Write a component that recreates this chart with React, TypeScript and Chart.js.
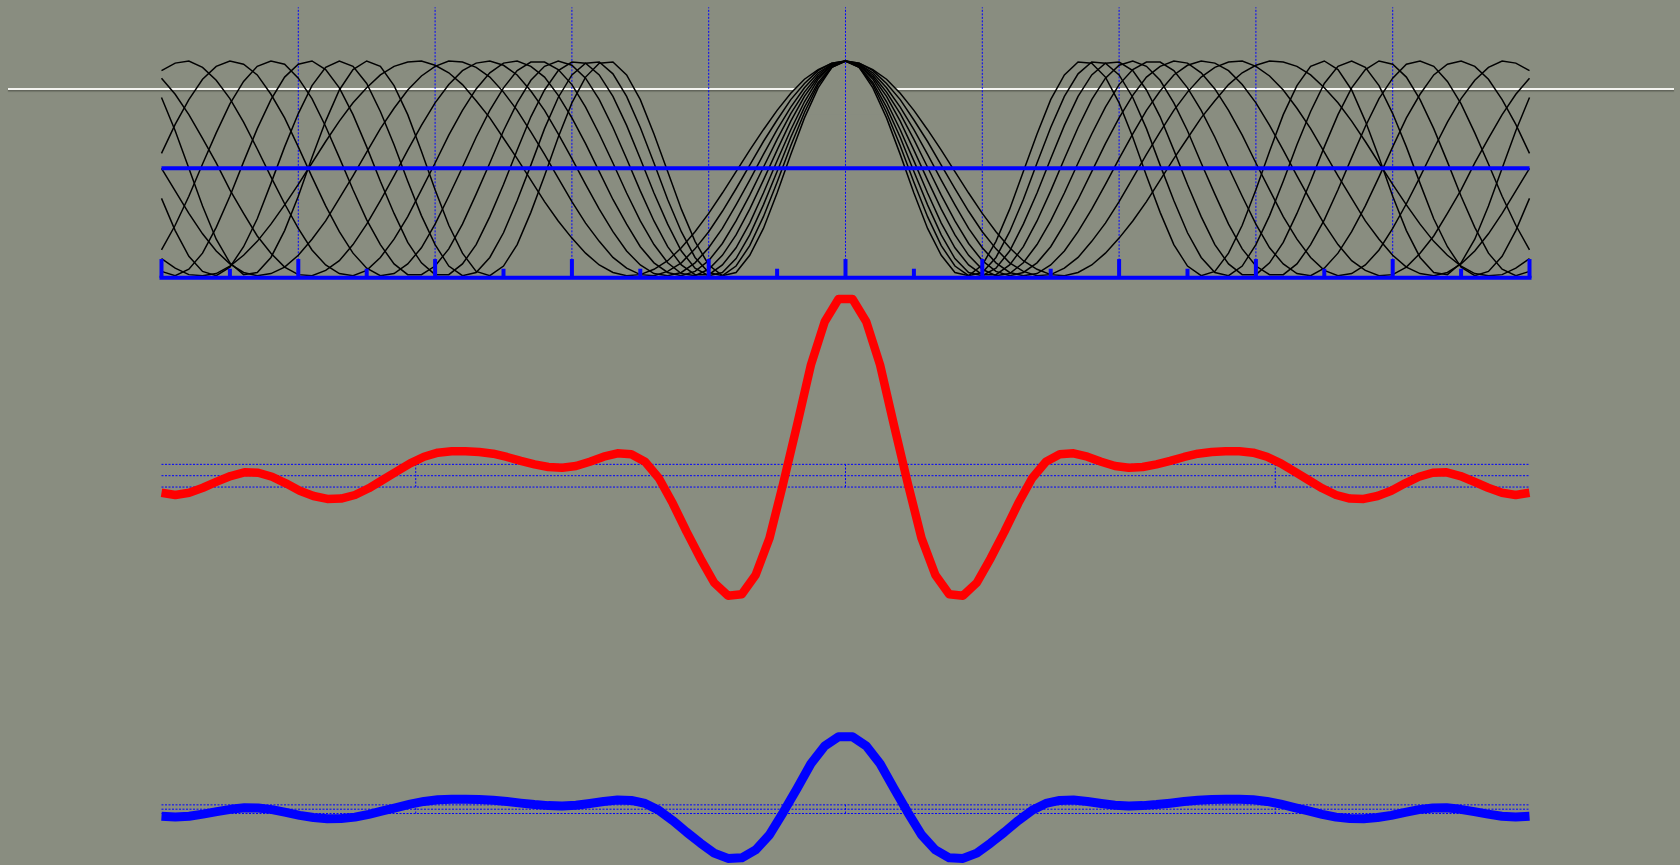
import React, { useEffect, useRef } from "react";
import { Chart, registerables } from "chart.js";

Chart.register(...registerables);

// ---------- data ----------
// sample positions of the component waves (x from -5 to 5)
const WAVE_X = [
  -5, -4.9, -4.8, -4.7, -4.6, -4.5, -4.4, -4.3, -4.2, -4.1, -4, -3.9, -3.8, -3.7, -3.6, -3.5, -3.4, -3.3, -3.2, -3.1,
  -3, -2.9, -2.8, -2.7, -2.6, -2.5, -2.4, -2.3, -2.2, -2.1, -2, -1.9, -1.8, -1.7, -1.6, -1.5, -1.4, -1.3, -1.2, -1.1,
  -1, -0.9, -0.8, -0.7, -0.6, -0.5, -0.4, -0.3, -0.2, -0.1, 0, 0.1, 0.2, 0.3, 0.4, 0.5, 0.6, 0.7, 0.8, 0.9,
  1, 1.1, 1.2, 1.3, 1.4, 1.5, 1.6, 1.7, 1.8, 1.9, 2, 2.1, 2.2, 2.3, 2.4, 2.5, 2.6, 2.7, 2.8, 2.9,
  3, 3.1, 3.2, 3.3, 3.4, 3.5, 3.6, 3.7, 3.8, 3.9, 4, 4.1, 4.2, 4.3, 4.4, 4.5, 4.6, 4.7, 4.8, 4.9, 5,
];

const WAVE_NAMES = ["k=2.0", "k=2.2", "k=2.4", "k=2.6", "k=2.8", "k=3.0", "k=3.2", "k=3.4", "k=3.6"];

const WAVE_20 = [
  -0.84, -0.93, -0.99, -1.0, -0.98, -0.91, -0.81, -0.68, -0.52, -0.34, -0.15, 0.05, 0.25, 0.44, 0.61, 0.75, 0.87, 0.95, 0.99, 1.0,
  0.96, 0.89, 0.78, 0.63, 0.47, 0.28, 0.09, -0.11, -0.31, -0.49, -0.65, -0.79, -0.9, -0.97, -1.0, -0.99, -0.94, -0.86, -0.74, -0.59,
  -0.42, -0.23, -0.03, 0.17, 0.36, 0.54, 0.7, 0.83, 0.92, 0.98,
  1.0,
  0.98, 0.92, 0.83, 0.7, 0.54, 0.36, 0.17, -0.03, -0.23, -0.42, -0.59, -0.74, -0.86, -0.94, -0.99, -1.0, -0.97, -0.9, -0.79, -0.65,
  -0.49, -0.31, -0.11, 0.09, 0.28, 0.47, 0.63, 0.78, 0.89, 0.96, 1.0, 0.99, 0.95, 0.87, 0.75, 0.61, 0.44, 0.25, 0.05, -0.15,
  -0.34, -0.52, -0.68, -0.81, -0.91, -0.98, -1.0, -0.99, -0.93, -0.84,
];
const WAVE_22 = [
  0.0, -0.21, -0.42, -0.61, -0.77, -0.89, -0.97, -1.0, -0.98, -0.92, -0.81, -0.66, -0.49, -0.28, -0.07, 0.15, 0.37, 0.56, 0.73, 0.86,
  0.95, 1.0, 0.99, 0.94, 0.85, 0.71, 0.54, 0.34, 0.13, -0.09, -0.31, -0.51, -0.68, -0.83, -0.93, -0.99, -1.0, -0.96, -0.88, -0.75,
  -0.59, -0.4, -0.19, 0.03, 0.25, 0.45, 0.64, 0.79, 0.91, 0.98,
  1.0,
  0.98, 0.91, 0.79, 0.64, 0.45, 0.25, 0.03, -0.19, -0.4, -0.59, -0.75, -0.88, -0.96, -1.0, -0.99, -0.93, -0.83, -0.68, -0.51, -0.31,
  -0.09, 0.13, 0.34, 0.54, 0.71, 0.85, 0.94, 0.99, 1.0, 0.95, 0.86, 0.73, 0.56, 0.37, 0.15, -0.07, -0.28, -0.49, -0.66, -0.81,
  -0.92, -0.98, -1.0, -0.97, -0.89, -0.77, -0.61, -0.42, -0.21, 0.0,
];
const WAVE_24 = [
  0.84, 0.69, 0.5, 0.28, 0.05, -0.2, -0.42, -0.63, -0.79, -0.92, -0.99, -1.0, -0.95, -0.86, -0.71, -0.52, -0.3, -0.07, 0.17, 0.4,
  0.61, 0.78, 0.91, 0.98, 1.0, 0.96, 0.87, 0.72, 0.54, 0.32, 0.09, -0.15, -0.38, -0.59, -0.77, -0.9, -0.98, -1.0, -0.97, -0.88,
  -0.74, -0.56, -0.34, -0.11, 0.13, 0.36, 0.57, 0.75, 0.89, 0.97,
  1.0,
  0.97, 0.89, 0.75, 0.57, 0.36, 0.13, -0.11, -0.34, -0.56, -0.74, -0.88, -0.97, -1.0, -0.98, -0.9, -0.77, -0.59, -0.38, -0.15, 0.09,
  0.32, 0.54, 0.72, 0.87, 0.96, 1.0, 0.98, 0.91, 0.78, 0.61, 0.4, 0.17, -0.07, -0.3, -0.52, -0.71, -0.86, -0.95, -1.0, -0.99,
  -0.92, -0.79, -0.63, -0.42, -0.2, 0.05, 0.28, 0.5, 0.69, 0.84,
];
const WAVE_26 = [
  0.91, 0.98, 1.0, 0.94, 0.82, 0.65, 0.43, 0.18, -0.08, -0.33, -0.56, -0.76, -0.9, -0.98, -1.0, -0.95, -0.83, -0.66, -0.45, -0.2,
  0.05, 0.31, 0.54, 0.74, 0.89, 0.98, 1.0, 0.95, 0.85, 0.68, 0.47, 0.23, -0.03, -0.29, -0.52, -0.73, -0.88, -0.97, -1.0, -0.96,
  -0.86, -0.7, -0.49, -0.25, 0.01, 0.27, 0.51, 0.71, 0.87, 0.97,
  1.0,
  0.97, 0.87, 0.71, 0.51, 0.27, 0.01, -0.25, -0.49, -0.7, -0.86, -0.96, -1.0, -0.97, -0.88, -0.73, -0.52, -0.29, -0.03, 0.23, 0.47,
  0.68, 0.85, 0.95, 1.0, 0.98, 0.89, 0.74, 0.54, 0.31, 0.05, -0.2, -0.45, -0.66, -0.83, -0.95, -1.0, -0.98, -0.9, -0.76, -0.56,
  -0.33, -0.08, 0.18, 0.43, 0.65, 0.82, 0.94, 1.0, 0.98, 0.91,
];
const WAVE_28 = [
  0.14, 0.41, 0.64, 0.83, 0.95, 1.0, 0.97, 0.87, 0.69, 0.47, 0.2, -0.08, -0.35, -0.59, -0.79, -0.93, -1.0, -0.98, -0.89, -0.74,
  -0.52, -0.26, 0.01, 0.29, 0.54, 0.75, 0.91, 0.99, 0.99, 0.92, 0.78, 0.57, 0.32, 0.05, -0.23, -0.49, -0.71, -0.88, -0.98, -1.0,
  -0.94, -0.81, -0.62, -0.38, -0.11, 0.17, 0.44, 0.67, 0.85, 0.96,
  1.0,
  0.96, 0.85, 0.67, 0.44, 0.17, -0.11, -0.38, -0.62, -0.81, -0.94, -1.0, -0.98, -0.88, -0.71, -0.49, -0.23, 0.05, 0.32, 0.57, 0.78,
  0.92, 0.99, 0.99, 0.91, 0.75, 0.54, 0.29, 0.01, -0.26, -0.52, -0.74, -0.89, -0.98, -1.0, -0.93, -0.79, -0.59, -0.35, -0.08, 0.2,
  0.47, 0.69, 0.87, 0.97, 1.0, 0.95, 0.83, 0.64, 0.41, 0.14,
];
const WAVE_30 = [
  -0.76, -0.53, -0.26, 0.04, 0.33, 0.6, 0.81, 0.95, 1.0, 0.97, 0.84, 0.65, 0.39, 0.1, -0.2, -0.48, -0.71, -0.89, -0.99, -0.99,
  -0.91, -0.75, -0.52, -0.24, 0.05, 0.35, 0.61, 0.82, 0.95, 1.0, 0.96, 0.84, 0.64, 0.38, 0.09, -0.21, -0.49, -0.73, -0.9, -0.99,
  -0.99, -0.9, -0.74, -0.51, -0.23, 0.07, 0.36, 0.62, 0.83, 0.96,
  1.0,
  0.96, 0.83, 0.62, 0.36, 0.07, -0.23, -0.51, -0.74, -0.9, -0.99, -0.99, -0.9, -0.73, -0.49, -0.21, 0.09, 0.38, 0.64, 0.84, 0.96,
  1.0, 0.95, 0.82, 0.61, 0.35, 0.05, -0.24, -0.52, -0.75, -0.91, -0.99, -0.99, -0.89, -0.71, -0.48, -0.2, 0.1, 0.39, 0.65, 0.84,
  0.97, 1.0, 0.95, 0.81, 0.6, 0.33, 0.04, -0.26, -0.53, -0.76,
];
const WAVE_32 = [
  -0.96, -1.0, -0.94, -0.79, -0.55, -0.26, 0.06, 0.37, 0.64, 0.85, 0.97, 1.0, 0.92, 0.75, 0.5, 0.2, -0.12, -0.42, -0.69, -0.88,
  -0.99, -0.99, -0.89, -0.71, -0.45, -0.15, 0.17, 0.48, 0.73, 0.91, 0.99, 0.98, 0.87, 0.67, 0.4, 0.09, -0.23, -0.52, -0.77, -0.93,
  -1.0, -0.97, -0.84, -0.62, -0.34, -0.03, 0.29, 0.57, 0.8, 0.95,
  1.0,
  0.95, 0.8, 0.57, 0.29, -0.03, -0.34, -0.62, -0.84, -0.97, -1.0, -0.93, -0.77, -0.52, -0.23, 0.09, 0.4, 0.67, 0.87, 0.98, 0.99,
  0.91, 0.73, 0.48, 0.17, -0.15, -0.45, -0.71, -0.89, -0.99, -0.99, -0.88, -0.69, -0.42, -0.12, 0.2, 0.5, 0.75, 0.92, 1.0, 0.97,
  0.85, 0.64, 0.37, 0.06, -0.26, -0.55, -0.79, -0.94, -1.0, -0.96,
];
const WAVE_34 = [
  -0.28, -0.58, -0.82, -0.96, -1.0, -0.92, -0.73, -0.47, -0.14, 0.2, 0.51, 0.77, 0.94, 1.0, 0.95, 0.79, 0.53, 0.22, -0.12, -0.44,
  -0.71, -0.91, -1.0, -0.97, -0.83, -0.6, -0.3, 0.03, 0.37, 0.66, 0.87, 0.98, 0.99, 0.88, 0.67, 0.38, 0.05, -0.29, -0.59, -0.83,
  -0.97, -1.0, -0.91, -0.72, -0.45, -0.13, 0.21, 0.52, 0.78, 0.94,
  1.0,
  0.94, 0.78, 0.52, 0.21, -0.13, -0.45, -0.72, -0.91, -1.0, -0.97, -0.83, -0.59, -0.29, 0.05, 0.38, 0.67, 0.88, 0.99, 0.98, 0.87,
  0.66, 0.37, 0.03, -0.3, -0.6, -0.83, -0.97, -1.0, -0.91, -0.71, -0.44, -0.12, 0.22, 0.53, 0.79, 0.95, 1.0, 0.94, 0.77, 0.51,
  0.2, -0.14, -0.47, -0.73, -0.92, -1.0, -0.96, -0.82, -0.58, -0.28,
];
const WAVE_36 = [
  0.66, 0.35, 0.0, -0.35, -0.66, -0.88, -0.99, -0.97, -0.83, -0.58, -0.26, 0.1, 0.44, 0.73, 0.92, 1.0, 0.95, 0.77, 0.5, 0.16,
  -0.2, -0.53, -0.79, -0.96, -1.0, -0.91, -0.71, -0.41, -0.07, 0.29, 0.61, 0.85, 0.98, 0.99, 0.87, 0.64, 0.32, -0.03, -0.38, -0.68,
  -0.9, -1.0, -0.97, -0.81, -0.56, -0.23, 0.13, 0.47, 0.75, 0.94,
  1.0,
  0.94, 0.75, 0.47, 0.13, -0.23, -0.56, -0.81, -0.97, -1.0, -0.9, -0.68, -0.38, -0.03, 0.32, 0.64, 0.87, 0.99, 0.98, 0.85, 0.61,
  0.29, -0.07, -0.41, -0.71, -0.91, -1.0, -0.96, -0.79, -0.53, -0.2, 0.16, 0.5, 0.77, 0.95, 1.0, 0.92, 0.73, 0.44, 0.1, -0.26,
  -0.58, -0.83, -0.97, -0.99, -0.88, -0.66, -0.35, 0.0, 0.35, 0.66,
];

const WAVES = [WAVE_20, WAVE_22, WAVE_24, WAVE_26, WAVE_28, WAVE_30, WAVE_32, WAVE_34, WAVE_36];

// sample positions of the wave packet (100 samples from -5 to 5)
const PACKET_X = [
  -5, -4.899, -4.798, -4.697, -4.596, -4.495, -4.394, -4.293, -4.192, -4.091, -3.99, -3.889, -3.788, -3.687, -3.586,
  -3.485, -3.384, -3.283, -3.182, -3.081, -2.98, -2.879, -2.778, -2.677, -2.576, -2.475, -2.374, -2.273, -2.172, -2.071,
  -1.97, -1.869, -1.768, -1.667, -1.566, -1.465, -1.364, -1.263, -1.162, -1.061, -0.96, -0.859, -0.758, -0.657, -0.556,
  -0.455, -0.354, -0.253, -0.152, -0.051, 0.051, 0.152, 0.253, 0.354, 0.455, 0.556, 0.657, 0.758, 0.859, 0.96,
  1.061, 1.162, 1.263, 1.364, 1.465, 1.566, 1.667, 1.768, 1.869, 1.97, 2.071, 2.172, 2.273, 2.374, 2.475,
  2.576, 2.677, 2.778, 2.879, 2.98, 3.081, 3.182, 3.283, 3.384, 3.485, 3.586, 3.687, 3.788, 3.889, 3.99,
  4.091, 4.192, 4.293, 4.394, 4.495, 4.596, 4.697, 4.798, 4.899, 5,
];

const PACKET = [
  -1.5, -1.7, -1.5, -1.06, -0.53, -0.03, 0.3, 0.26, -0.09, -0.67, -1.32, -1.79, -2.05, -2.01, -1.7, -1.11, -0.38, 0.35,
  1.09, 1.67, 2.03, 2.15, 2.15, 2.09, 1.94, 1.65, 1.3, 1.0, 0.77, 0.7, 0.85, 1.23, 1.67, 1.97, 1.89, 1.23, -0.23, -2.43,
  -4.93, -7.28, -9.43, -10.57, -10.45, -8.75, -5.52, -0.67, 4.47, 9.75, 13.57, 15.57,
  15.57, 13.57, 9.75, 4.47, -0.67, -5.52, -8.75, -10.45, -10.57, -9.43, -7.28, -4.93, -2.43, -0.23, 1.23, 1.89, 1.97,
  1.67, 1.23, 0.85, 0.7, 0.77, 1.0, 1.3, 1.65, 1.94, 2.09, 2.15, 2.15, 2.03, 1.67, 1.09, 0.35, -0.38, -1.11, -1.7,
  -2.01, -2.05, -1.79, -1.32, -0.67, -0.09, 0.26, 0.3, -0.03, -0.53, -1.06, -1.5, -1.7, -1.5,
];

// axis ticks / grid
const MAJOR_TICKS = [-5, -4, -3, -2, -1, 0, 1, 2, 3, 4, 5];
const MINOR_TICKS = [-4.5, -3.5, -2.5, -1.5, -0.5, 0.5, 1.5, 2.5, 3.5, 4.5];
const DOTTED_X = [-4, -3, -2, -1, 0, 1, 2, 3, 4];
const PANEL_GRID_X = [-3.1416, 0, 3.1416];
const RED_LEVELS = [-1, 0, 1];
const BLUE_LEVELS = [-0.93, 0, 0.93];

// ---------- styling / layout ----------
const BG = "#898d80";
const BLUE = "#0000ff";
const RED = "#ff0000";
const PAGE_W = 1680;
const PAGE_H = 865;
const PAD_LEFT = 161.5;
const PAD_RIGHT = PAGE_W - 1529.5;
const X_MIN = -5;
const X_MAX = 5;

const TOP_PANEL = { top: 0, height: 300, yMin: -1.02, yMax: 1.5, areaTop: 7.3, areaBottom: 277.85 };
const AXIS_Y = -1.02;
const MAJOR_LEN = 0.175;
const MINOR_LEN = 0.085;
const MASK_LEVEL = 0.5;
const DASH = [2, 1.5];

const RED_PANEL = { top: 285, height: 330, zeroY: 475.7, pxPerUnit: 11.35 };
const BLUE_PANEL = { top: 715, height: 150, zeroY: 809.2, pxPerUnit: 4.655 };

const pts = (xs: number[], ys: number[]) => xs.map((x, i) => ({ x, y: ys[i] }));

const line = (data: any[], color: string, width: number, order: number, extra: any = {}) => ({
  data,
  borderColor: color,
  borderWidth: width,
  pointRadius: 0,
  pointHoverRadius: 0,
  tension: 0,
  fill: false,
  clip: false,
  order,
  ...extra,
});

const baseOptions = (padTop: number, padBottom: number, yMin: number, yMax: number) => ({
  animation: false,
  responsive: false,
  events: [],
  layout: { padding: { left: PAD_LEFT, right: PAD_RIGHT, top: padTop, bottom: padBottom } },
  plugins: { legend: { display: false }, tooltip: { enabled: false }, title: { display: false } },
  scales: {
    x: { type: "linear", min: X_MIN, max: X_MAX, display: false },
    y: { type: "linear", min: yMin, max: yMax, display: false },
  },
});

function topConfig() {
  const maskPts = pts(WAVE_X, WAVE_20).filter((p) => Math.abs(p.x) <= 0.5);
  const datasets: any[] = [];
  datasets.push(
    line(maskPts, "rgba(0,0,0,0)", 0, 20, {
      fill: { value: MASK_LEVEL },
      backgroundColor: BG,
      label: "mask",
    })
  );
  DOTTED_X.forEach((x) =>
    datasets.push(line([{ x, y: AXIS_Y }, { x, y: TOP_PANEL.yMax }], BLUE, 1, 15, { borderDash: DASH }))
  );
  WAVES.forEach((w, i) => datasets.push(line(pts(WAVE_X, w), "#000000", 1.5, 10, { label: WAVE_NAMES[i] })));
  datasets.push(line([{ x: X_MIN, y: 0 }, { x: X_MAX, y: 0 }], BLUE, 4, 3));
  datasets.push(
    line([{ x: X_MIN, y: AXIS_Y }, { x: X_MAX, y: AXIS_Y }], BLUE, 4, 2, { borderCapStyle: "square" })
  );
  MAJOR_TICKS.forEach((x) =>
    datasets.push(line([{ x, y: AXIS_Y }, { x, y: AXIS_Y + MAJOR_LEN }], BLUE, 4, 1))
  );
  MINOR_TICKS.forEach((x) =>
    datasets.push(line([{ x, y: AXIS_Y }, { x, y: AXIS_Y + MINOR_LEN }], BLUE, 4, 1))
  );
  const padTop = TOP_PANEL.areaTop - TOP_PANEL.top;
  const padBottom = TOP_PANEL.top + TOP_PANEL.height - TOP_PANEL.areaBottom;
  return {
    type: "line",
    data: { datasets },
    options: baseOptions(padTop, padBottom, TOP_PANEL.yMin, TOP_PANEL.yMax),
  };
}

function packetConfig(panel: any, levels: number[], color: string, width: number) {
  const yMax = (panel.zeroY - panel.top) / panel.pxPerUnit;
  const yMin = (panel.zeroY - (panel.top + panel.height)) / panel.pxPerUnit;
  const lo = Math.min(...levels);
  const hi = Math.max(...levels);
  const datasets: any[] = [];
  levels.forEach((v) =>
    datasets.push(line([{ x: X_MIN, y: v }, { x: X_MAX, y: v }], BLUE, 1, 10, { borderDash: DASH }))
  );
  PANEL_GRID_X.forEach((x) =>
    datasets.push(line([{ x, y: lo }, { x, y: hi }], BLUE, 1, 10, { borderDash: DASH }))
  );
  datasets.push(line(pts(PACKET_X, PACKET), color, width, 1, { borderJoinStyle: "round", label: "packet" }));
  return {
    type: "line",
    data: { datasets },
    options: baseOptions(0, 0, yMin, yMax),
  };
}

function ChartCanvas({ top, height, config }: { top: number; height: number; config: () => any }) {
  const ref = useRef<HTMLCanvasElement | null>(null);
  useEffect(() => {
    if (!ref.current) return;
    const chart = new Chart(ref.current, config() as any);
    return () => chart.destroy();
  }, []);
  return (
    <canvas
      ref={ref}
      width={PAGE_W}
      height={height}
      style={{ position: "absolute", left: 0, top, width: PAGE_W, height }}
    />
  );
}

export default function App() {
  return (
    <div
      style={{
        position: "fixed",
        left: 0,
        top: 0,
        width: PAGE_W,
        height: PAGE_H,
        overflow: "hidden",
        background: BG,
      }}
    >
      <div
        style={{
          position: "absolute",
          left: 8,
          top: 88,
          width: 1666,
          height: 2,
          background: "#f3f3ef",
          boxShadow: "0 1.5px 1px rgba(60,62,52,0.55)",
        }}
      />
      <ChartCanvas top={TOP_PANEL.top} height={TOP_PANEL.height} config={topConfig} />
      <ChartCanvas
        top={RED_PANEL.top}
        height={RED_PANEL.height}
        config={() => packetConfig(RED_PANEL, RED_LEVELS, RED, 8.5)}
      />
      <ChartCanvas
        top={BLUE_PANEL.top}
        height={BLUE_PANEL.height}
        config={() => packetConfig(BLUE_PANEL, BLUE_LEVELS, BLUE, 9)}
      />
    </div>
  );
}
